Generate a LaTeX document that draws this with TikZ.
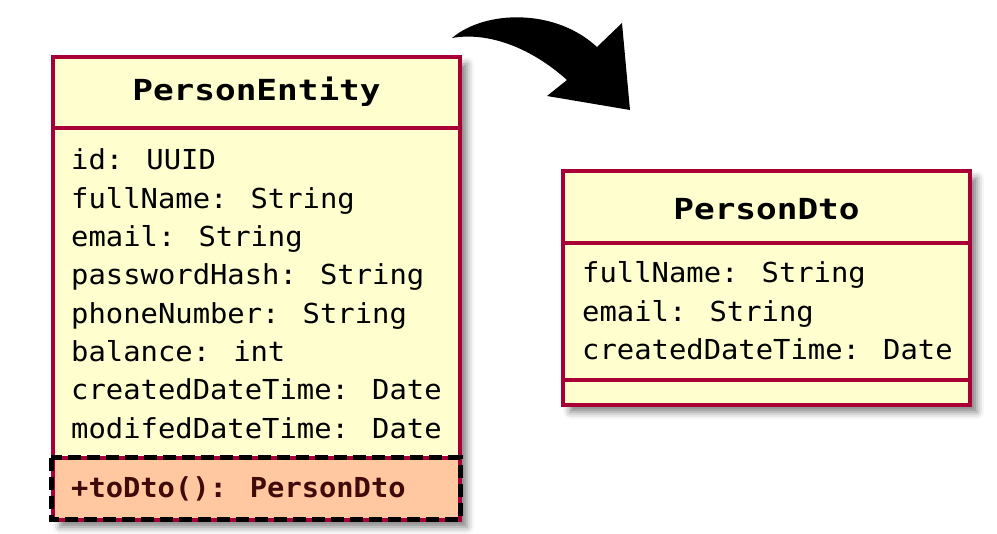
\documentclass[tikz,border=0pt]{standalone}
\usepackage{fontspec}
\usetikzlibrary{shadows.blur}
\newfontfamily\attrfont[FakeStretch=1.049]{DejaVu Sans Mono}
\newfontfamily\attrboldfont[FakeStretch=1.045]{DejaVu Sans Mono Bold}
\newfontfamily\titlefont[FakeStretch=1.185]{DejaVu Sans Mono Bold}
\definecolor{umlfill}{HTML}{FEFECE}
\definecolor{umlborder}{HTML}{A80036}
\definecolor{methfill}{HTML}{FFC8A0}
\definecolor{methtext}{HTML}{400A0A}
\tikzset{
  classbox/.style={draw=umlborder, fill=umlfill, line width=4pt, inner sep=0pt,
    blur shadow={shadow xshift=7pt, shadow yshift=-7pt, shadow blur radius=7pt, shadow opacity=50}},
  sepline/.style={draw=umlborder, line width=4pt},
  titletext/.style={anchor=base, inner sep=0pt, font=\titlefont\fontsize{29}{34}\selectfont},
  attrtext/.style={anchor=base west, inner sep=0pt, font=\attrfont\fontsize{27.5}{38}\selectfont},
  methtextstyle/.style={anchor=base west, inner sep=0pt, text=methtext, font=\attrboldfont\fontsize{27.5}{38}\selectfont},
}
\begin{document}
\begin{tikzpicture}[x=1pt,y=-1pt]
\useasboundingbox (0,0) rectangle (997,534);
% curved arrow
\fill[black] (452,38) .. controls (485,10) and (555,8) .. (597,47)
  -- (622,23) -- (630,110) -- (547,96) -- (567,80)
  .. controls (528,45) and (485,32) .. cycle;
% PersonEntity box
\node[classbox, minimum width=407pt, minimum height=463pt] (entity) at (256.5,288.5) {};
\draw[sepline] (53,128) -- (460,128);
\fill[methfill] (55,460) rectangle (458,518);
\draw[sepline] (53,458) -- (460,458);
\draw[black, line width=5pt, dash pattern=on 13pt off 6pt] (51,458) rectangle (460,520);
\node[titletext] (etitle) at (256.5,101) {PersonEntity};
\node[attrtext] (e1) at (71,170) {id: UUID};
\node[attrtext] (e2) at (71,208.3) {fullName: String};
\node[attrtext] (e3) at (71,246.6) {email: String};
\node[attrtext] (e4) at (71,285) {passwordHash: String};
\node[attrtext] (e5) at (71,323.3) {phoneNumber: String};
\node[attrtext] (e6) at (71,361.6) {balance: int};
\node[attrtext] (e7) at (71,400) {createdDateTime: Date};
\node[attrtext] (e8) at (71,438.3) {modifedDateTime: Date};
\node[methtextstyle] (m1) at (71,498) {+toDto(): PersonDto};
% PersonDto box
\node[classbox, minimum width=407pt, minimum height=234pt] (dto) at (766.5,288) {};
\draw[sepline] (563,243) -- (970,243);
\draw[sepline] (563,380) -- (970,380);
\node[titletext] (dtitle) at (766.5,219.3) {PersonDto};
\node[attrtext] (d1) at (582,283) {fullName: String};
\node[attrtext] (d2) at (582,321.5) {email: String};
\node[attrtext] (d3) at (582,360) {createdDateTime: Date};
\end{tikzpicture}
\end{document}
